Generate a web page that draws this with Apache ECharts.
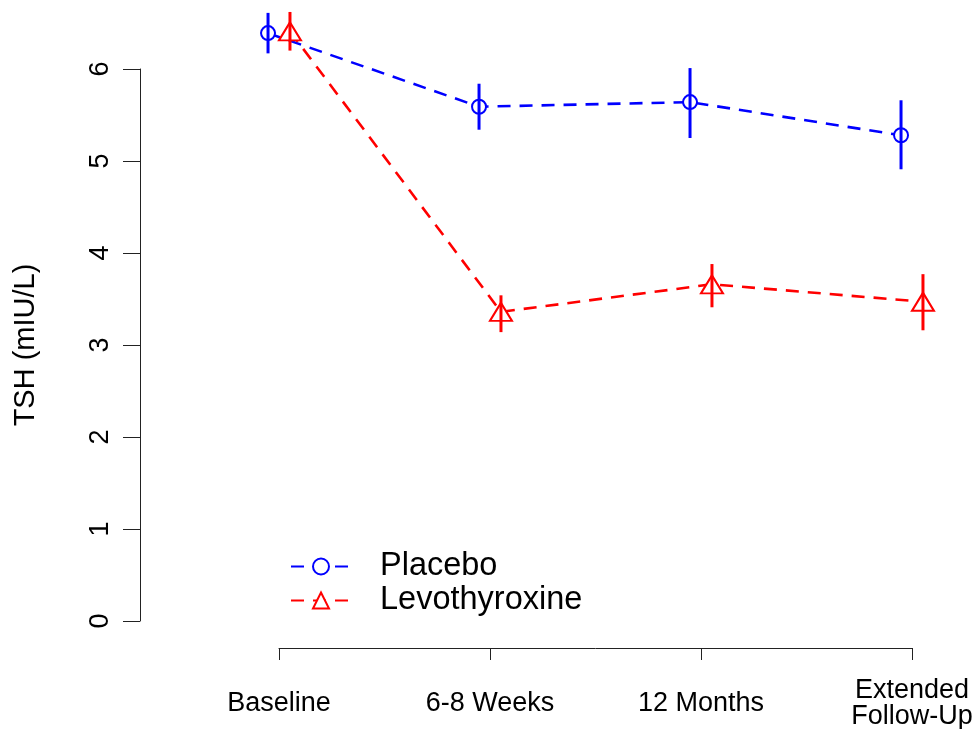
<!DOCTYPE html>
<html><head><meta charset="utf-8">
<script src="https://cdn.jsdelivr.net/npm/echarts@6/dist/echarts.min.js"></script>
<style>html,body{margin:0;padding:0;background:#fff}#c{width:978px;height:729px}</style>
</head><body><div id="c"></div>
<script>
const categories = ['Baseline', '6-8 Weeks', '12 Months', 'Extended\nFollow-Up'];
const seriesNames = ['Placebo', 'Levothyroxine'];
const placeboMean = [6.39, 5.59, 5.64, 5.28];
const placeboLow  = [6.17, 5.34, 5.25, 4.91];
const placeboHigh = [6.61, 5.84, 6.01, 5.66];
const levoMean = [6.41, 3.36, 3.66, 3.47];
const levoLow  = [6.20, 3.14, 3.41, 3.16];
const levoHigh = [6.62, 3.54, 3.88, 3.77];
const yTicks = [0, 1, 2, 3, 4, 5, 6];

const FONT = "'Liberation Sans', Arial, sans-serif";
const BLUE = '#0000FF', RED = '#FF0000';
const offset = 0.052;

function pts(mean, d) { return mean.map((m, i) => [i + 1 + d, m]); }
function bars(low, high, d) { return low.map((l, i) => [i + 1 + d, l, high[i]]); }
function errRender(color) {
  return function (params, api) {
    const lo = api.coord([api.value(0), api.value(1)]);
    const hi = api.coord([api.value(0), api.value(2)]);
    return { type: 'line', shape: { x1: lo[0], y1: lo[1], x2: hi[0], y2: hi[1] },
      style: { stroke: color, lineWidth: 3 } };
  };
}

const chart = echarts.init(document.getElementById('c'), null, { renderer: 'canvas' });
chart.setOption({
  animation: false,
  backgroundColor: '#fff',
  textStyle: { fontFamily: FONT },
  grid: [
    { left: 194.6, right: 2.7, top: 0, bottom: 108, outerBoundsMode: 'none', containLabel: false },
    { left: 140, width: 10, top: 69, bottom: 108, outerBoundsMode: 'none', containLabel: false },
    { left: 279, right: 66, bottom: 81, height: 10, outerBoundsMode: 'none', containLabel: false }
  ],
  xAxis: [
    { gridIndex: 0, type: 'value', min: 0.6, max: 4.3, show: false },
    { gridIndex: 1, type: 'value', min: 0, max: 1, show: false },
    { gridIndex: 2, type: 'value', min: 1, max: 4, interval: 1,
      axisLine: { show: true, lineStyle: { color: '#222', width: 1 } },
      axisTick: { show: true, length: 12, lineStyle: { color: '#222', width: 1 } },
      splitLine: { show: false },
      axisLabel: { show: true, showMinLabel: true, showMaxLabel: true, margin: 56, verticalAlign: 'middle',
        fontSize: 27, lineHeight: 26, color: '#000', fontFamily: FONT,
        formatter: v => categories[Math.round(v) - 1] || '' } }
  ],
  yAxis: [
    { gridIndex: 0, type: 'value', min: 0, max: 6.75, show: false },
    { gridIndex: 1, type: 'value', min: yTicks[0], max: yTicks[yTicks.length - 1], interval: 1,
      axisLine: { show: true, lineStyle: { color: '#222', width: 1 } },
      axisTick: { show: true, length: 17, lineStyle: { color: '#222', width: 1 } },
      splitLine: { show: false },
      axisLabel: { show: true, rotate: 90, margin: 26, fontSize: 27, color: '#000', fontFamily: FONT,
        showMinLabel: true, showMaxLabel: true },
      name: 'TSH (mIU/L)', nameLocation: 'middle', nameGap: 100,
      nameTextStyle: { fontSize: 29, color: '#000', fontFamily: FONT } },
    { gridIndex: 2, type: 'value', show: false }
  ],
  legend: {
    data: seriesNames,
    orient: 'vertical', left: 285, top: 545,
    itemWidth: 60, itemHeight: 20, itemGap: 1,
    textStyle: { fontSize: 32.5, color: '#000', fontFamily: FONT, padding: [0, 0, 0, 24] }
  },
  series: [
    { name: seriesNames[0], type: 'line', xAxisIndex: 0, yAxisIndex: 0,
      data: pts(placeboMean, -offset), symbol: 'emptyCircle', symbolSize: 14,
      lineStyle: { color: BLUE, width: 2.6, type: [13, 9] },
      itemStyle: { color: BLUE, borderColor: BLUE, borderWidth: 2.5 }, z: 2 },
    { name: seriesNames[1], type: 'line', xAxisIndex: 0, yAxisIndex: 0,
      data: pts(levoMean, offset), symbol: 'emptyTriangle', symbolSize: [22, 18],
      lineStyle: { color: RED, width: 2.6, type: [13, 9] },
      itemStyle: { color: RED, borderColor: RED, borderWidth: 2.5 }, z: 2 },
    { type: 'custom', xAxisIndex: 0, yAxisIndex: 0, renderItem: errRender(BLUE),
      data: bars(placeboLow, placeboHigh, -offset), encode: { x: 0, y: [1, 2] }, z: 5, silent: true },
    { type: 'custom', xAxisIndex: 0, yAxisIndex: 0, renderItem: errRender(RED),
      data: bars(levoLow, levoHigh, offset), encode: { x: 0, y: [1, 2] }, z: 5, silent: true }
  ]
});
</script></body></html>
